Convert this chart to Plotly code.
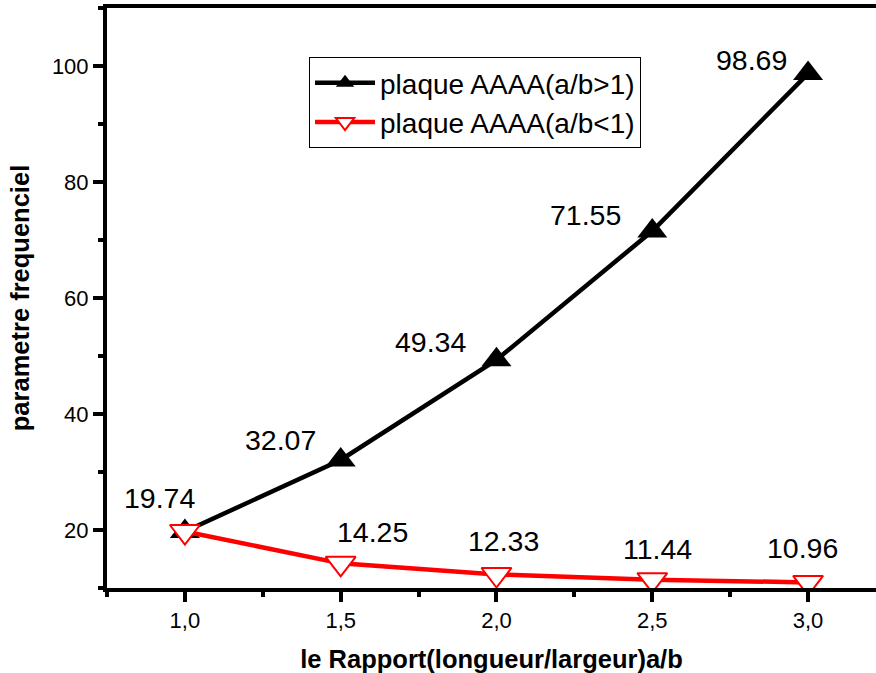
import plotly.graph_objects as go

ratio = [1.0, 1.5, 2.0, 2.5, 3.0]
freq_gt1 = [19.74, 32.07, 49.34, 71.55, 98.69]
freq_lt1 = [19.74, 14.25, 12.33, 11.44, 10.96]
name_gt1 = "plaque AAAA(a/b>1)"
name_lt1 = "plaque AAAA(a/b<1)"
x_title = "le Rapport(longueur/largeur)a/b"
y_title = "parametre frequenciel"

FONT = "Liberation Sans, Arial, sans-serif"

fig = go.Figure()
fig.add_trace(go.Scatter(
    x=ratio, y=freq_gt1, name=name_gt1, mode="lines+markers",
    line=dict(color="black", width=4.5),
    marker=dict(symbol="triangle-up", size=26, color="black"),
))
fig.add_trace(go.Scatter(
    x=ratio, y=freq_lt1, name=name_lt1, mode="lines+markers",
    line=dict(color="#ff0000", width=4.5),
    marker=dict(symbol="triangle-down", size=26, color="white",
                line=dict(color="#ff0000", width=2)),
))

# label offsets in pixels (x, y-up)
off_gt1 = [(-25, 34), (-60, 20), (-66, 18), (-67, 16), (-57, 14)]
off_lt1 = [None, (32, 31), (7, 33), (5, 31), (-6, 34)]

annotations = []
for x, y, o in zip(ratio, freq_gt1, off_gt1):
    annotations.append(dict(x=x, y=y, xref="x", yref="y", text=f"{y:.2f}",
                            showarrow=False, xshift=o[0], yshift=o[1],
                            font=dict(size=28.5, color="black", family=FONT)))
for x, y, o in zip(ratio, freq_lt1, off_lt1):
    if o is None:
        continue
    annotations.append(dict(x=x, y=y, xref="x", yref="y", text=f"{y:.2f}",
                            showarrow=False, xshift=o[0], yshift=o[1],
                            font=dict(size=28.5, color="black", family=FONT)))

fig.update_layout(
    width=876, height=673,
    margin=dict(l=107, r=0, t=8, b=85),
    paper_bgcolor="white", plot_bgcolor="white",
    font=dict(family=FONT, color="black"),
    separators=", ",
    showlegend=True,
    legend=dict(x=0.2627, y=0.9155, xanchor="left", yanchor="top",
                bordercolor="black", borderwidth=1, bgcolor="white",
                font=dict(size=28, family=FONT), itemwidth=60,
                tracegroupgap=0),
    annotations=annotations,
    xaxis=dict(range=[0.75, 3.218], tick0=1.0, dtick=0.5, tickformat=".1f",
               automargin=False,
               showgrid=False, zeroline=False,
               showline=True, linecolor="black", linewidth=4, mirror=True,
               ticks="outside", ticklen=10, tickwidth=4, tickcolor="black",
               tickfont=dict(size=22, family=FONT),
               minor=dict(dtick=0.25, tick0=0.75, ticks="outside", ticklen=5,
                          tickwidth=4, tickcolor="black", showgrid=False),
               title=dict(text=f"<b>{x_title}</b>", font=dict(size=25.5, family=FONT),
                          standoff=20)),
    yaxis=dict(range=[10, 110], tick0=20, dtick=20,
               automargin=False,
               showgrid=False, zeroline=False,
               showline=True, linecolor="black", linewidth=4, mirror=False,
               ticks="outside", ticklen=10, tickwidth=4, tickcolor="black",
               tickfont=dict(size=22, family=FONT),
               minor=dict(dtick=10, tick0=10, ticks="outside", ticklen=5,
                          tickwidth=4, tickcolor="black", showgrid=False),
               title=dict(text=f"<b>{y_title}</b>", font=dict(size=25.5, family=FONT),
                          standoff=16)),
)

fig.write_html("out.html", config={"displayModeBar": False},
               post_script="document.body.style.margin='0';document.body.style.overflow='hidden';")
